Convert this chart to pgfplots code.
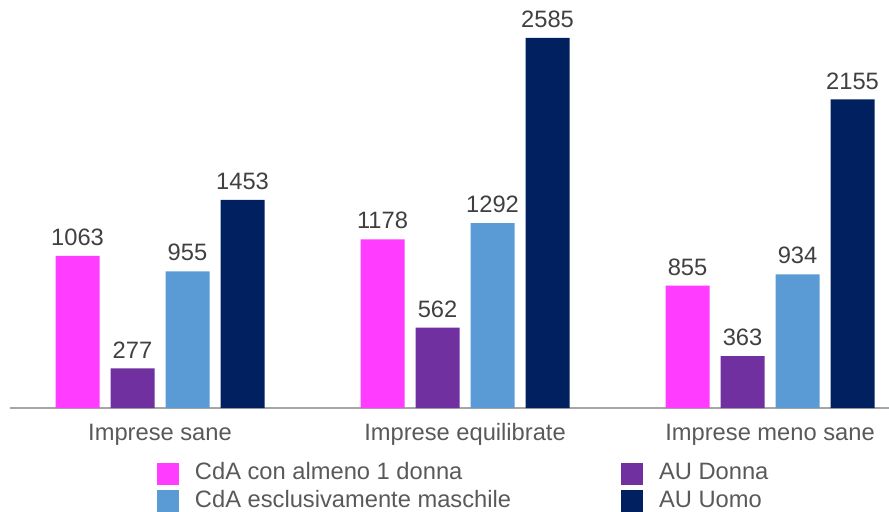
\documentclass[border=0pt]{standalone}
\usepackage{pgfplots}
\pgfplotsset{compat=1.18}
\usepackage{fontspec}
\setmainfont{Liberation Sans}
\definecolor{cMag}{HTML}{FF3CFF}
\definecolor{cPur}{HTML}{7030A0}
\definecolor{cBlu}{HTML}{5B9BD5}
\definecolor{cNav}{HTML}{002060}
\definecolor{cTxt}{HTML}{595959}
\definecolor{cLab}{HTML}{404040}
\definecolor{cAx}{HTML}{A6A6A6}
\newcommand{\fs}{\fontsize{23.7bp}{27bp}\selectfont}
\begin{document}
\begin{tikzpicture}
\path[use as bounding box] (0,0) rectangle (889bp,512bp);
\begin{axis}[
  at={(10bp,104bp)}, anchor=south west,
  scale only axis, width=879bp, height=408bp,
  xmin=-0.4918, xmax=2.390, ymin=0, ymax=2850,
  ybar=11bp, bar width=44bp,
  axis x line*=bottom, axis y line=none,
  x axis line style={draw=cAx, line width=1.5bp, -},
  xtick={0,1,2}, major tick length=0pt,
  xticklabels={Imprese sane, Imprese equilibrate, Imprese meno sane},
  xticklabel style={font=\fs, text=cTxt, inner sep=0pt, anchor=base, yshift=-32bp},
  ytick=\empty,
  /pgf/number format/assume math mode=true,
  /pgf/number format/fixed, /pgf/number format/precision=0,
  /pgf/number format/1000 sep={},
  nodes near coords,
  every node near coord/.append style={font=\fs, text=cLab, anchor=south, inner sep=0pt, yshift=10bp},
  legend columns=2,
  legend image code/.code={\fill[#1] (0bp,-11bp) rectangle (22bp,11bp);},
  legend style={at={(0.1672,-0.1348)}, anchor=north west, draw=none, fill=none,
    inner sep=0pt, outer sep=0pt, font=\fs, text=cTxt, row sep=5.5bp,
    nodes={inner sep=0pt, text height=17bp, text depth=5bp},
    /tikz/every odd column/.append style={column sep=16bp},
    /tikz/every even column/.append style={column sep=110bp},
    cells={anchor=west}},
  clip=false,
]
\addplot[fill=cMag, draw=none] coordinates {(0,1063) (1,1178) (2,855)};
\addplot[fill=cPur, draw=none] coordinates {(0,277) (1,562) (2,363)};
\addplot[fill=cBlu, draw=none] coordinates {(0,955) (1,1292) (2,934)};
\addplot[fill=cNav, draw=none] coordinates {(0,1453) (1,2585) (2,2155)};
\legend{CdA con almeno 1 donna, AU Donna, CdA esclusivamente maschile, AU Uomo}
\end{axis}
\end{tikzpicture}
\end{document}
